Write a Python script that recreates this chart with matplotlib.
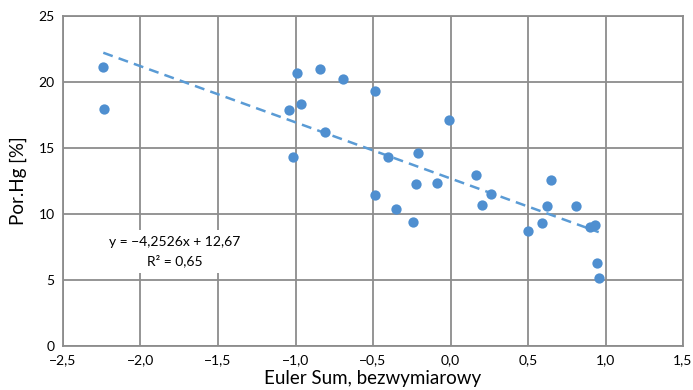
import numpy as np
from matplotlib import pyplot as plt

# Euler Sum vs Por.Hg
euler = [-2.24, -2.233, -0.990, -0.840, -0.694, -0.487, -0.965, -1.044, -0.808, -1.014,
         -0.008, -0.403, -0.210, -0.223, -0.085, 0.165, 0.648, -0.487, -0.352, -0.244,
         0.259, 0.205, 0.623, 0.810, 0.502, 0.592, 0.900, 0.930, 0.943, 0.956]
por_hg = [21.14, 17.93, 20.64, 20.94, 20.23, 19.30, 18.31, 17.86, 16.19, 14.32,
          17.10, 14.30, 14.58, 12.25, 12.35, 12.96, 12.58, 11.39, 10.33, 9.40,
          11.49, 10.63, 10.56, 10.56, 8.71, 9.30, 9.02, 9.17, 6.24, 5.15]
trend = [-4.2526, 12.67]  # slope, intercept
xticks = [-2.5, -2.0, -1.5, -1.0, -0.5, 0.0, 0.5, 1.0, 1.5]
yticks = [0, 5, 10, 15, 20, 25]

plt.rcParams['font.family'] = ['Lato', 'DejaVu Sans']
fig = plt.figure(figsize=(6.93, 3.9), dpi=100)
ax = fig.add_axes([0.0909, 0.1136, 0.8947, 0.8461])

grid_c = '#8c8c8c'
ax.grid(True, color=grid_c, linewidth=1.3)
ax.set_axisbelow(True)
for s in ax.spines.values():
    s.set_color(grid_c)
    s.set_linewidth(1.3)

xs = np.array([min(euler), max(euler)])
ax.plot(xs, np.polyval(trend, xs), color='#5a9bd5', lw=1.8, dashes=(4, 2.5), zorder=2)
ax.scatter(euler, por_hg, s=55, color='#4f8fd0', zorder=3, linewidths=0)

ax.set_xlim(-2.5, 1.5)
ax.set_ylim(0, 25)
ax.set_xticks(xticks)
ax.set_yticks(yticks)
ax.set_xticklabels([('%.1f' % v).replace('-', '\u2212').replace('.', ',') for v in xticks])
ax.set_yticklabels([str(v) for v in yticks])
ax.tick_params(axis='both', length=0, labelsize=10, pad=6)

ax.text(-1.78, 7.15, 'y = \u22124,2526x + 12,67\nR\u00b2 = 0,65', ha='center', va='center',
        fontsize=10, linespacing=1.55,
        bbox=dict(facecolor='white', edgecolor='none', pad=4.5))

ax.set_xlabel('Euler Sum, bezwymiarowy', fontsize=13.5, labelpad=3)
ax.set_ylabel('Por.Hg [%]', fontsize=13.5, labelpad=8)

fig.savefig('out.png', dpi=100)
